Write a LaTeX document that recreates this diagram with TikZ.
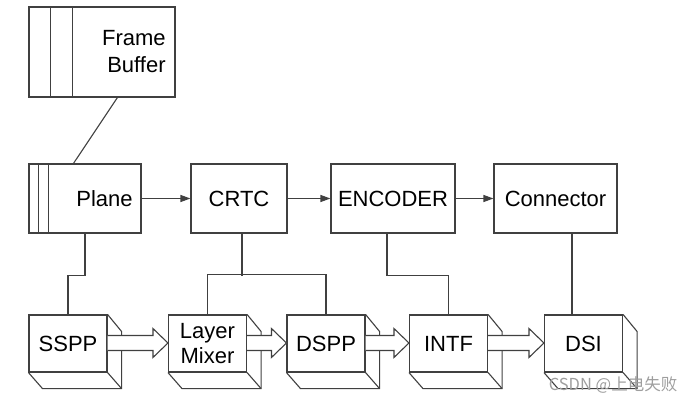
\documentclass[tikz,border=0pt]{standalone}
\usepackage{fontspec}
\setmainfont{Liberation Sans}
\newfontfamily\cjk{Noto Sans CJK SC}
\usetikzlibrary{calc,arrows.meta}
\begin{document}
\begin{tikzpicture}[x=1pt,y=-1pt,
  line width=1.1pt,
  box/.style={draw=black!75,fill=white,minimum height=57pt,minimum width=78pt,inner sep=0pt,font=\fontsize{22}{25}\selectfont,align=center},
  topbox/.style={draw=black!75,minimum height=69pt,inner sep=0pt,font=\fontsize{22}{25}\selectfont},
  wire/.style={draw=black!75},
  flow/.style={draw=black!75,-{Triangle[length=10pt,width=7pt]}},
  hollow/.style={draw=black!75,fill=white,line join=miter}]
\useasboundingbox (0,0) rectangle (692,403);
% frame buffer
\node[topbox,minimum width=146pt,minimum height=90pt] (fb) at (102,52) {};
\node[anchor=east,align=right,font=\fontsize{22}{27}\selectfont] (fbt) at (169.5,52) {Frame\\Buffer};
\draw[wire] ($(fb.north west)+(22,0)$) -- ($(fb.south west)+(22,0)$);
\draw[wire] ($(fb.north west)+(44,0)$) -- ($(fb.south west)+(44,0)$);
% top row
\node[topbox,minimum width=112pt] (plane) at (85,198.5) {};
\node[anchor=east,font=\fontsize{22}{25}\selectfont] (planet) at (136.5,198.5) {Plane};
\draw[wire] ($(plane.north west)+(10,0)$) -- ($(plane.south west)+(10,0)$);
\draw[wire] ($(plane.north west)+(20,0)$) -- ($(plane.south west)+(20,0)$);
\node[topbox,minimum width=96pt] (crtc) at (239,198.5) {CRTC};
\node[topbox,minimum width=124pt] (enc) at (393,198.5) {ENCODER};
\node[topbox,minimum width=123pt] (con) at (555.5,198.5) {Connector};
\draw[wire] ($(fb.south west)+(89,0)$) -- ($(plane.north west)+(45,0)$);
\draw[flow] (plane.east) -- (crtc.west);
\draw[flow] (crtc.east) -- (enc.west);
\draw[flow] (enc.east) -- (con.west);
% bottom row
\node[box] (sspp) at (68,343.5) {SSPP};
\node[box] (lm) at (207.5,343.5) {Layer\\Mixer};
\node[box] (dspp) at (326,343.5) {DSPP};
\node[box] (intf) at (448.5,343.5) {INTF};
\node[box] (dsi) at (583.5,343.5) {DSI};
\foreach \n in {sspp,lm,dspp,intf,dsi}{
  \draw[wire,line join=miter] (\n.north east) -- ++(14,17) -- ($(\n.south east)+(14,16)$) -- ($(\n.south west)+(14,16)$) -- (\n.south west);
  \draw[wire] (\n.south east) -- ++(14,16);
}
% hollow arrows
\foreach \a/\b in {sspp/lm,lm/dspp,dspp/intf,intf/dsi}{
  \draw[hollow] ($(\a.east)+(0,-8)$) -- ($(\b.west)+(-15,-8)$) -- ($(\b.west)+(-15,-15)$) -- ($(\b.west)+(0,-0.5)$) -- ($(\b.west)+(-15,14)$) -- ($(\b.west)+(-15,7)$) -- ($(\a.east)+(0,7)$);
}
% control lines
\draw[wire] (plane.south) -- ++(0,42) -| (sspp.north);
\draw[wire] ($(crtc.south)+(3,0)$) -- ++(0,42);
\draw[wire] (lm.north) -- ++(0,-40) -| (dspp.north);
\draw[wire] ($(enc.south)+(-6,0)$) -- ++(0,42) -| (intf.north);
\draw[wire] ($(con.south)+(16.5,0)$) -- ($(dsi.north)+(-11.5,0)$);
% watermark
\node[anchor=center,text=black!38,font=\cjk\fontsize{16.5}{18}\selectfont] (wm) at (613,385) {CSDN @上电失败};
\end{tikzpicture}
\end{document}
